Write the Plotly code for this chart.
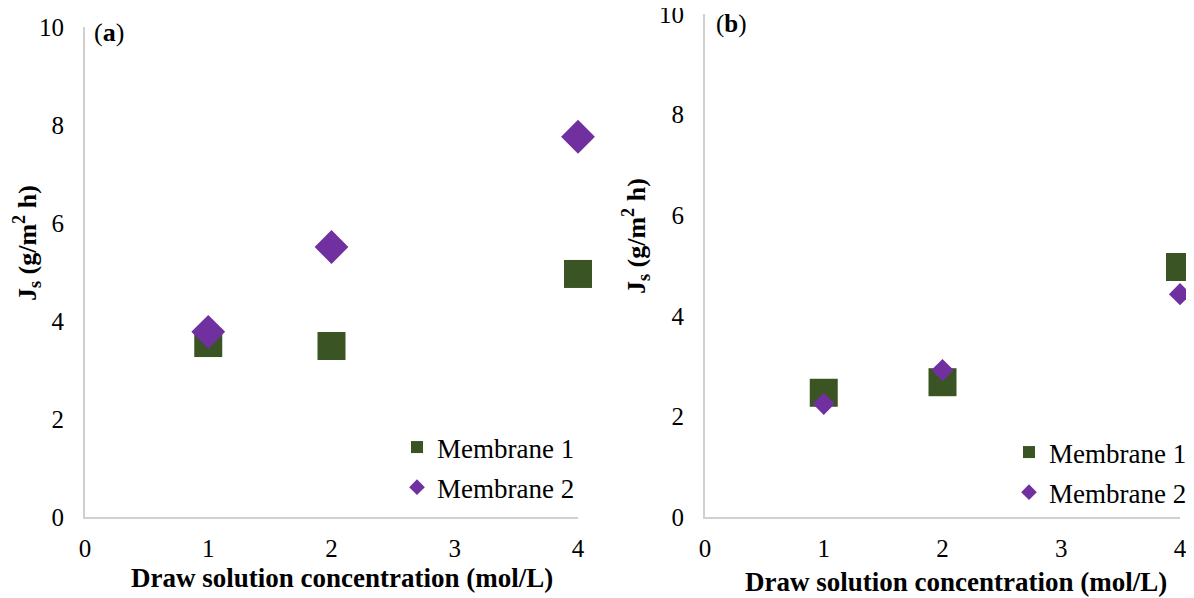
import plotly.graph_objects as go

conc = [1, 2, 4]
a_m1 = [3.55, 3.49, 4.96]
a_m2 = [3.78, 5.51, 7.76]
b_m1 = [2.47, 2.68, 4.97]
b_m2 = [2.25, 2.92, 4.43]
series_names = ["Membrane 1", "Membrane 2"]
x_ticks = [0, 1, 2, 3, 4]
y_ticks = [0, 2, 4, 6, 8, 10]

GREEN = "#3a5424"
PURPLE = "#7030a0"
FONT = "Liberation Serif"
FS = 25

# page body has an 8px margin; figure is sized/positioned to compensate
OFF = 8
W, H = 1194 - OFF, 598 - OFF


def px(x):
    return (x - OFF) / W


def py(y):
    return 1 - (y - OFF) / H


fig = go.Figure()

fig.add_trace(go.Scatter(x=conc, y=a_m1, mode="markers", name=series_names[0], legendgroup="a1",
                         marker=dict(symbol="square", size=28, color=GREEN),
                         xaxis="x", yaxis="y", legend="legend", cliponaxis=False))
fig.add_trace(go.Scatter(x=conc, y=a_m2, mode="markers", name=series_names[1], legendgroup="a2",
                         marker=dict(symbol="diamond", size=26, color=PURPLE),
                         xaxis="x", yaxis="y", legend="legend", cliponaxis=False))
fig.add_trace(go.Scatter(x=conc, y=b_m1, mode="markers", name=series_names[0], legendgroup="b1",
                         marker=dict(symbol="square", size=28, color=GREEN),
                         xaxis="x2", yaxis="y2", legend="legend2", cliponaxis=False))
fig.add_trace(go.Scatter(x=conc, y=b_m2, mode="markers", name=series_names[1], legendgroup="b2",
                         marker=dict(symbol="diamond", size=17, color=PURPLE),
                         xaxis="x2", yaxis="y2", legend="legend2", cliponaxis=False))

axis_common = dict(showgrid=False, zeroline=False, showline=True, linecolor="#d0d0d0",
                   linewidth=2, ticks="", tickfont=dict(family=FONT, size=FS, color="black"),
                   fixedrange=True, automargin=False, ticklabeloverflow="allow")

fig.update_layout(
    width=W, height=H,
    margin=dict(l=0, r=0, t=0, b=0),
    paper_bgcolor="white", plot_bgcolor="white",
    font=dict(family=FONT, color="black"),
    xaxis=dict(domain=[px(85), px(578)], range=[0, 4], tickvals=x_ticks, anchor="y",
               ticklabelstandoff=8, **axis_common),
    yaxis=dict(domain=[py(517), py(27)], range=[0, 10], tickvals=y_ticks, anchor="x",
               ticklabelstandoff=14, **axis_common),
    xaxis2=dict(domain=[px(705), px(1180)], range=[0, 4], tickvals=x_ticks, anchor="y2",
                ticklabelstandoff=8, **axis_common),
    yaxis2=dict(domain=[py(517), py(14)], range=[0, 10], tickvals=y_ticks, anchor="x2",
                ticklabelstandoff=14, **axis_common),
    legend=dict(x=px(397), y=py(423), xanchor="left", yanchor="top", itemsizing="constant",
                font=dict(family=FONT, size=27, color="black"), bgcolor="rgba(0,0,0,0)",
                traceorder="grouped", tracegroupgap=2, itemwidth=30),
    legend2=dict(x=px(1009), y=py(428), xanchor="left", yanchor="top", itemsizing="constant",
                 font=dict(family=FONT, size=27, color="black"), bgcolor="rgba(0,0,0,0)",
                 traceorder="grouped", tracegroupgap=2, itemwidth=30),
    showlegend=True,
)

ytitle = "<b>J<sub>s</sub> (g/m<sup>2</sup> h)</b>"
xtitle = "<b>Draw solution concentration (mol/L)</b>"
ann = [
    dict(text=xtitle, x=px(342), y=py(578), xref="paper", yref="paper",
         showarrow=False, font=dict(family=FONT, size=27), xanchor="center", yanchor="middle"),
    dict(text=xtitle, x=px(956), y=py(582), xref="paper", yref="paper",
         showarrow=False, font=dict(family=FONT, size=27), xanchor="center", yanchor="middle"),
    dict(text=ytitle, x=px(27), y=py(243), xref="paper", yref="paper", textangle=-90,
         showarrow=False, font=dict(family=FONT, size=26), xanchor="center", yanchor="middle"),
    dict(text=ytitle, x=px(636), y=py(236), xref="paper", yref="paper", textangle=-90,
         showarrow=False, font=dict(family=FONT, size=26), xanchor="center", yanchor="middle"),
    dict(text="(<b>a</b>)", x=px(92), y=py(32), xref="paper", yref="paper",
         showarrow=False, font=dict(family=FONT, size=26), xanchor="left", yanchor="middle"),
    dict(text="(<b>b</b>)", x=px(714), y=py(24), xref="paper", yref="paper",
         showarrow=False, font=dict(family=FONT, size=25), xanchor="left", yanchor="middle"),
]
fig.update_layout(annotations=ann)

fig.write_html("out.html")
